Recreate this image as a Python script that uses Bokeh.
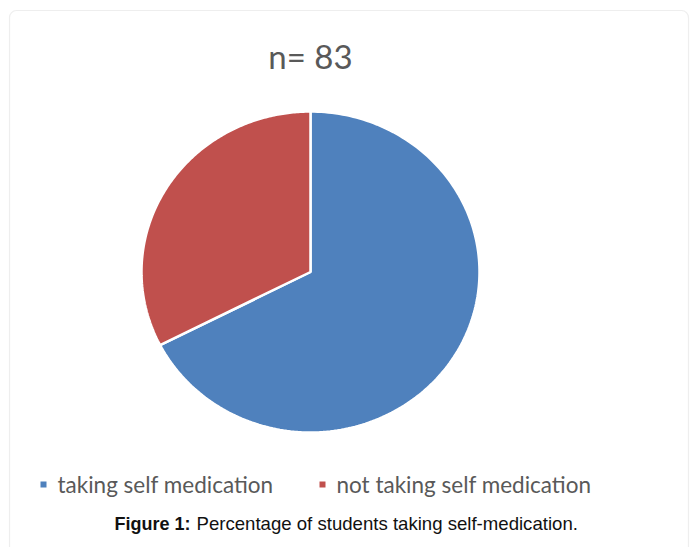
import numpy as np
from bokeh.plotting import figure
from bokeh.models import Range1d, ColumnDataSource, BoxAnnotation
from bokeh.core.properties import value
from bokeh.embed import file_html
from bokeh.resources import INLINE

# ---- data ----
categories = ["taking self medication", "not taking self medication"]
counts = [56, 27]
colors = ["#4F81BD", "#C0504D"]
title_text = "n= 83"
caption_bold = "Figure 1:"
caption_rest = "Percentage of students taking self-medication."

W, H = 690, 547
p = figure(width=W, height=H, output_backend="svg", toolbar_location=None,
           x_range=Range1d(0, W), y_range=Range1d(0, H),
           min_border=0, outline_line_color=None,
           x_axis_location=None, y_axis_location=None)
p.xgrid.visible = False
p.ygrid.visible = False
p.background_fill_color = "white"
p.border_fill_color = "white"

# outer rounded frame
p.add_layout(BoxAnnotation(left=9, right=688, top=537, bottom=-20,
                           fill_alpha=0, line_color="#c8c8c8", line_width=1.2,
                           border_radius=7))

# pie (slightly elliptical, as in the reference)
cx, cy, rx, ry = 310, 275.5, 169, 160.5
total = sum(counts)
start = np.pi / 2
xs, ys = [], []
for c in counts:
    sweep = 2 * np.pi * c / total
    t = np.linspace(start, start - sweep, 200)
    xs.append([cx] + list(cx + rx * np.cos(t)) + [cx])
    ys.append([cy] + list(cy + ry * np.sin(t)) + [cy])
    start -= sweep
src = ColumnDataSource(dict(xs=xs, ys=ys, color=colors, label=categories))
p.patches("xs", "ys", source=src, fill_color="color", line_color="white", line_width=2.5)

# title
p.text(x=[310], y=[492], text=[title_text], text_font=value("Lato"),
       text_font_size="33px", text_color="#595959",
       text_align="center", text_baseline="middle")

# legend
leg_x = [43, 322]
leg_y = [63, 63]
p.rect(x=leg_x, y=leg_y, width=6, height=6, fill_color=colors, line_color=None)
p.text(x=[x + 14 for x in leg_x], y=[63, 63], text=categories, text_font=value("Lato"),
       text_font_size="22.5px", text_color="#595959",
       text_align="left", text_baseline="middle")

# caption
p.text(x=[114], y=[24], text=[caption_bold], text_font=value("Liberation Sans"),
       text_font_style="bold", text_font_size="18px", text_color="#111111",
       text_align="left", text_baseline="alphabetic")
p.text(x=[196], y=[24], text=[caption_rest], text_font=value("Liberation Sans"),
       text_font_size="18.6px", text_color="#111111",
       text_align="left", text_baseline="alphabetic")

open("out.html", "w").write(file_html(p, INLINE))
